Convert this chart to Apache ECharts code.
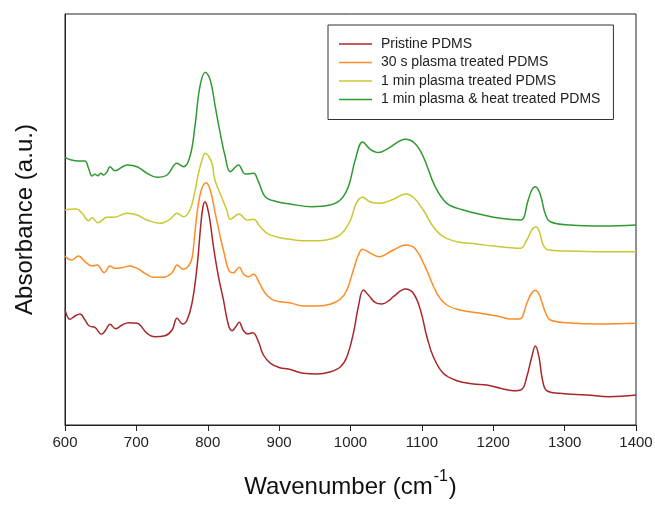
<!DOCTYPE html>
<html>
<head>
<meta charset="utf-8">
<script src="https://cdn.jsdelivr.net/npm/echarts@6/dist/echarts.min.js"></script>
<style>
html,body{margin:0;padding:0;background:#fff;}
#c{width:655px;height:506px;}
</style>
</head>
<body>
<div id="c"></div>
<script>
// Wavenumber ticks
const xTicks = [600, 700, 800, 900, 1000, 1100, 1200, 1300, 1400];
const seriesNames = ["Pristine PDMS", "30 s plasma treated PDMS", "1 min plasma treated PDMS", "1 min plasma & heat treated PDMS"];

// Pristine PDMS
const pristineWn = [600,607,614,621,628,634,642,651,657,663,671,680,689,701,715,726,740,750,757,765,771,778,785,790,793,796,799,803,808,815,822,829,834,839,844,850,856,863,871,878,888,901,913,934,953,971,986,995,1004,1011,1018,1025,1035,1044,1055,1060,1077,1088,1098,1107,1116,1130,1149,1172,1191,1210,1228,1240,1247,1254,1259,1264,1269,1275,1293,1331,1363,1400];
const pristineAbs = [115.7,105.7,109,111,105,99,97.7,90.7,95,100.7,96.3,100,102.3,101.7,91.7,88.3,89.3,95,106.7,101,105,122,158.3,198.3,217,223.3,219,205,178.3,148.3,125,100,94.3,98,102.7,94.3,91,92.3,83.3,70,61.7,57.3,56,51.7,51,53,58.3,68.3,91.7,118.3,135,130,122.3,121,125,128.3,136,131.7,115,88.3,68.3,51.7,44.3,41,40,36.7,34.3,35.7,48.3,68.3,79,68.3,45,34.3,31.7,30,28.3,30];

// 30 s plasma treated PDMS
const plasma30sWn = [600,609,619,628,638,645,655,663,670,682,691,701,712,724,738,750,757,766,773,778,781,785,791,797.5,803.5,810.5,817.5,823,830.5,836,844,850,857,864,872.5,880.5,890,901.5,915,934,953,971.5,985.6,995,1004,1011,1017,1025,1040,1060,1077,1090,1104.6,1121,1135,1154,1182,1205,1226,1237,1247,1253,1259,1264,1268,1274,1280,1303,1350,1400];
const plasma30sAbs = [169,165,169,163.3,159,160,152.3,159,156.7,157.7,159,156.7,151.7,147.7,147.7,152.3,160,155.7,159,167,185,211.7,235,242.3,235,211.7,188.3,171.7,153.3,152.3,157.7,151,148.3,150.7,141.7,131.7,125.7,123.3,122.3,119,119,120.7,125.7,135,155,170,175.7,173,168.3,175,180,176.7,158.3,131.7,120,115,111.7,109,106,106,121.7,131,134.7,131,123.3,111,105,102.3,101,101.7];

// 1 min plasma treated PDMS
const plasma1mWn = [600,607,616,624,633,638,646,659,668,687,701,715,733,747,757,766,775,781,787,792,796.5,801,806,810,820,827,831.5,844,855,864,873.5,883,897,913,934,957,976,988,1000,1008,1017,1027,1040,1060,1077,1088,1102,1116,1130,1149,1177,1200,1224,1238,1247,1254,1259.6,1264.7,1270,1277,1303,1350,1400];
const plasma1mAbs = [215,215.7,216,211.7,204.3,207.3,202.3,207.7,207.7,211.7,210,205,201.7,205.7,211.7,208.3,215,230,251.7,265,271.7,269,261.7,245,227,214,205.7,211,205,205.7,198.3,191.7,188,186,184.3,184.3,186.7,191.7,205,221.7,227.7,223.3,221.7,225.7,231,227.7,215,198.3,188.3,183.3,181,179,177.3,176.7,185,195,198.3,193.3,180,175,174,173.3,173.3];

// 1 min plasma & heat treated PDMS
const plasmaHeatWn = [600,609,619,628,633,638,642,646,650,654,659,663,670,687,701,715,729,743,757,766,775,782,789,796.5,803.5,810.5,817.5,824.5,831.5,843,852.5,864,871,880.5,897,915,946,971,985.6,997,1006.6,1017,1027.6,1039,1053,1077,1090,1102,1118.6,1135,1158,1186,1210,1238,1249,1254,1259,1264,1268,1273,1280,1308,1354,1400];
const plasmaHeatAbs = [267.7,265,264,264,256.7,249,250.7,249.3,251.7,250,253.3,258.3,254.3,260,258.3,251.7,247.7,250,261.7,258.3,268.3,298.3,338.3,352.7,345,318.3,291.7,268.3,253.3,260,251,251.7,243.3,228.3,223.3,221,218.3,220,225,238.3,265,283,275.7,272.5,276.7,285.7,281.7,268.3,238.3,221.7,215,210,206.7,205,225,235,238.3,234,225,211,203.3,200,199,200];

const colors = ["#a8282a", "#ff8c26", "#c8c832", "#2f9a2f"];

function pairs(xs, ys) { return xs.map((x, i) => [x, ys[i]]); }

const allWn = [pristineWn, plasma30sWn, plasma1mWn, plasmaHeatWn];
const allAbs = [pristineAbs, plasma30sAbs, plasma1mAbs, plasmaHeatAbs];

const chart = echarts.init(document.getElementById('c'), null, {renderer: 'canvas'});
const font = "'Liberation Sans', Arial, sans-serif";

chart.setOption({
  animation: false,
  backgroundColor: '#fff',
  grid: {left: 65, right: 19, top: 14, bottom: 81, show: true, borderColor: '#222', borderWidth: 1,
         containLabel: false, outerBoundsMode: 'none'},
  legend: {
    orient: 'vertical',
    left: 328, top: 25,
    padding: [12, 13, 13, 11],
    itemWidth: 33, itemHeight: 14, itemGap: 4.5,
    borderColor: '#333', borderWidth: 1,
    backgroundColor: '#fff',
    textStyle: {fontFamily: font, fontSize: 14, color: '#222', padding: [0, 0, 0, 4]},
    data: seriesNames.map(n => ({name: n, icon: 'path://M0,0 L100,0 L100,5 L0,5 Z'}))
  },
  xAxis: {
    type: 'value', min: xTicks[0], max: xTicks[xTicks.length - 1], interval: 100,
    axisLine: {show: true, lineStyle: {color: '#222', width: 1}},
    axisTick: {show: true, inside: false, length: 6, lineStyle: {color: '#222'}},
    axisLabel: {fontFamily: font, fontSize: 15, color: '#222', margin: 10, formatter: v => String(v)},
    splitLine: {show: false},
    name: '{a|Wavenumber (cm}{s|-1}{a|)}',
    nameLocation: 'middle', nameGap: 44,
    nameTextStyle: {
      rich: {
        a: {fontFamily: font, fontSize: 24, color: '#111', verticalAlign: 'bottom', lineHeight: 30},
        s: {fontFamily: font, fontSize: 16, color: '#111', verticalAlign: 'top', lineHeight: 30, padding: [0, 1, 10, 1]}
      }
    }
  },
  yAxis: {
    type: 'value', min: 0, max: 411,
    axisLine: {show: true, lineStyle: {color: '#222', width: 1}},
    axisTick: {show: false},
    axisLabel: {show: false},
    splitLine: {show: false},
    name: 'Absorbance (a.u.)',
    nameLocation: 'middle', nameGap: 28,
    nameTextStyle: {fontFamily: font, fontSize: 24, color: '#111'}
  },
  series: seriesNames.map((n, i) => ({
    name: n, type: 'line', showSymbol: false, symbol: 'none',
    smooth: 0.4,
    color: colors[i],
    lineStyle: {width: 1.5, color: colors[i]},
    data: pairs(allWn[i], allAbs[i])
  }))
});
</script>
</body>
</html>
